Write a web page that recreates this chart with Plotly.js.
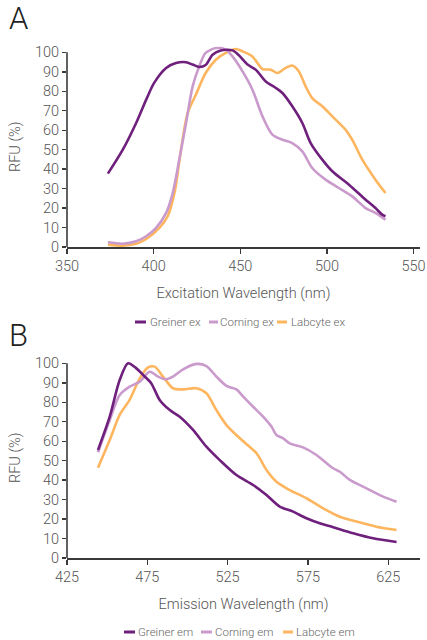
<!DOCTYPE html>
<html>
<head>
<meta charset="utf-8">
<script src="https://cdn.plot.ly/plotly-3.0.1.min.js"></script>
<style>html,body{margin:0;padding:0;background:#fff;}#chart{width:427px;height:640px;}</style>
</head>
<body>
<div id="chart"></div>
<script>
// ---------- Panel A: excitation ----------
const greinerExX = [373.6, 382.2, 389.9, 395.7, 400.2, 407.2, 412.9, 418.7, 422.5, 426.3, 430.0, 434.0, 438.8, 445.5, 449.4, 454.2, 459.0, 464.7, 470.5, 474.3, 480.0, 485.8, 490.6, 497.3, 503.1, 512.7, 522.3, 528.0, 531.9, 533.8];
const greinerExY = [37.7, 50.0, 63.7, 75.7, 84.2, 92.0, 94.5, 94.9, 93.7, 92.5, 93.5, 98.8, 101.0, 101.0, 98.3, 93.7, 91.0, 85.0, 81.7, 79.1, 72.3, 63.7, 53.4, 44.9, 38.9, 32.0, 24.3, 20.0, 16.6, 15.8];

const corningExX = [373.6, 382.2, 389.9, 395.7, 401.4, 407.2, 411.0, 414.8, 418.7, 422.5, 426.3, 430.0, 435.9, 441.6, 445.5, 451.3, 457.0, 462.8, 468.5, 474.3, 480.0, 485.8, 491.5, 499.2, 506.9, 514.6, 522.3, 528.0, 533.8];
const corningExY = [2.4, 1.7, 2.9, 5.5, 9.8, 17.5, 27.7, 44.9, 63.7, 82.5, 92.8, 99.7, 102.2, 101.4, 97.9, 90.2, 80.8, 67.1, 57.7, 55.1, 53.4, 49.1, 40.6, 34.6, 30.3, 26.0, 20.0, 17.5, 14.0];

const labcyteExX = [373.6, 382.2, 389.9, 395.7, 403.3, 408.1, 412.0, 415.8, 419.6, 424.4, 430.0, 435.9, 441.6, 447.4, 451.3, 457.0, 459.9, 462.8, 467.6, 471.4, 476.2, 480.0, 483.8, 487.7, 491.5, 497.3, 503.1, 510.7, 514.6, 520.4, 528.0, 533.8];
const labcyteExY = [1.2, 0.7, 1.7, 4.1, 9.8, 15.8, 27.7, 50.0, 68.8, 78.3, 89.4, 96.2, 99.7, 101.7, 100.5, 97.9, 94.5, 91.4, 91.1, 89.4, 92.0, 93.2, 90.2, 82.5, 76.5, 72.3, 67.1, 60.3, 55.1, 44.9, 34.6, 27.7];

// ---------- Panel B: emission ----------
const greinerEmX = [444.3, 451.6, 457.8, 463.0, 468.2, 472.4, 477.5, 482.7, 489.0, 495.2, 503.5, 511.8, 520.1, 530.5, 540.9, 549.2, 557.5, 565.8, 574.1, 582.4, 590.7, 603.2, 615.6, 630.2];
const greinerEmY = [55.5, 72.6, 91.4, 100.0, 97.4, 94.0, 89.7, 81.2, 76.0, 72.6, 65.8, 57.2, 50.3, 42.6, 37.5, 32.4, 26.4, 23.8, 20.4, 17.8, 15.8, 12.7, 10.1, 8.2];

const corningEmX = [444.3, 451.6, 457.8, 464.0, 470.3, 476.5, 481.7, 486.9, 491.0, 497.3, 505.6, 511.8, 518.0, 524.3, 530.5, 534.7, 540.9, 547.1, 552.3, 555.4, 559.6, 563.7, 572.0, 580.3, 590.7, 594.9, 601.1, 611.5, 621.9, 630.2];
const corningEmY = [54.3, 70.9, 83.7, 88.0, 90.6, 95.7, 93.2, 91.8, 93.2, 96.9, 99.7, 98.6, 93.2, 88.4, 86.6, 82.9, 77.7, 72.6, 67.5, 63.2, 61.5, 58.9, 56.8, 52.9, 46.1, 44.3, 40.1, 35.8, 31.5, 28.9];

const labcyteEmX = [444.3, 451.6, 457.8, 464.0, 470.3, 475.5, 479.6, 484.8, 491.0, 497.3, 505.6, 511.8, 518.0, 524.3, 532.6, 543.0, 549.2, 555.4, 563.7, 574.1, 584.5, 594.9, 605.3, 617.7, 630.2];
const labcyteEmY = [46.4, 60.6, 73.5, 81.2, 92.3, 97.9, 98.3, 93.2, 87.2, 86.6, 87.2, 84.6, 76.0, 68.3, 61.5, 53.8, 45.2, 39.2, 34.9, 30.7, 25.5, 21.2, 18.7, 16.1, 14.4];

const namesA = ["Greiner ex", "Corning ex", "Labcyte ex"];
const namesB = ["Greiner em", "Corning em", "Labcyte em"];
const colors = ["#6f1f7c", "#c99acb", "#fdb65f"];
const xTicksA = [350, 400, 450, 500, 550];
const xTicksB = [425, 475, 525, 575, 625];
const yTicks = [0, 10, 20, 30, 40, 50, 60, 70, 80, 90, 100];

const FONT = "Roboto, 'DejaVu Sans', sans-serif";
const TXT = "#555555";
const AX = "#3a3a3a";

function tr(x, y, name, c, xa, ya) {
  return {x: x, y: y, name: name, xaxis: xa, yaxis: ya, type: "scatter", mode: "lines",
          line: {color: c, width: 2.6, shape: "spline", smoothing: 0.8}, showlegend: false,
          hoverinfo: "skip"};
}

const data = [
  tr(greinerExX, greinerExY, namesA[0], colors[0], "x", "y"),
  tr(corningExX, corningExY, namesA[1], colors[1], "x", "y"),
  tr(labcyteExX, labcyteExY, namesA[2], colors[2], "x", "y"),
  tr(greinerEmX, greinerEmY, namesB[0], colors[0], "x2", "y2"),
  tr(corningEmX, corningEmY, namesB[1], colors[1], "x2", "y2"),
  tr(labcyteEmX, labcyteEmY, namesB[2], colors[2], "x2", "y2")
];
data.reverse();

function xa(range, ticks, anchor, title) {
  return {range: range, domain: [0, 1], anchor: anchor, tickvals: ticks, ticktext: ticks.map(String),
          showline: true, linecolor: AX, linewidth: 1.6, ticks: "outside", ticklen: 5, tickwidth: 1.4,
          tickcolor: AX, showgrid: false, zeroline: false, automargin: false,
          tickfont: {family: FONT, size: 14.5, color: TXT, weight: 300},
          title: {text: title, font: {family: FONT, size: 14.5, color: TXT, weight: 300}, standoff: 14}};
}
function ya(domain, anchor) {
  return {range: [0, 103], domain: domain, anchor: anchor, tickvals: yTicks, ticktext: yTicks.map(String),
          showline: false, ticks: "outside", ticklen: 4, tickwidth: 1.4, tickcolor: AX,
          showgrid: false, zeroline: false, automargin: false,
          tickfont: {family: FONT, size: 14.5, color: TXT, weight: 300},
          title: {text: "RFU (%)", font: {family: FONT, size: 14.5, color: TXT, weight: 300}, standoff: 10}};
}

const W = 427, H = 640, ML = 67, MR = 7;
const PW = W - ML - MR;
const px = v => (v - ML) / PW;      // page pixel -> paper x
const py = v => 1 - v / H;          // page pixel -> paper y
const shapes = [
  {type: "line", xref: "x domain", yref: "y", x0: 0, x1: 0, y0: 0, y1: 100, line: {color: AX, width: 1.6}},
  {type: "line", xref: "x2 domain", yref: "y2", x0: 0, x1: 0, y0: 0, y1: 100, line: {color: AX, width: 1.6}}
];
const annotations = [
  {text: "A", xref: "paper", yref: "paper", x: px(7), y: py(19), xanchor: "left", yanchor: "middle",
   showarrow: false, font: {family: FONT, size: 31, color: "#222", weight: 300}},
  {text: "B", xref: "paper", yref: "paper", x: px(7), y: py(335), xanchor: "left", yanchor: "middle",
   showarrow: false, font: {family: FONT, size: 31, color: "#222", weight: 300}}
];
const legA = {y: 322, sw: [[135, 146], [209, 218], [277, 287]], tx: [148, 218, 289]};
const legB = {y: 632, sw: [[124, 135], [201, 212], [283, 293]], tx: [136, 213, 294]};
function addLegend(leg, names) {
  names.forEach((n, i) => {
    shapes.push({type: "line", xref: "paper", yref: "paper", x0: px(leg.sw[i][0]), x1: px(leg.sw[i][1]),
                 y0: py(leg.y), y1: py(leg.y), line: {color: colors[i], width: 3}});
    annotations.push({text: n, xref: "paper", yref: "paper", x: px(leg.tx[i]), y: py(leg.y),
                      xanchor: "left", yanchor: "middle", showarrow: false,
                      font: {family: FONT, size: 11.5, color: "#666", weight: 300}});
  });
}
addLegend(legA, namesA);
addLegend(legB, namesB);

const layout = {
  width: W, height: H, margin: {l: ML, r: MR, t: 0, b: 0},
  paper_bgcolor: "#fff", plot_bgcolor: "#fff", showlegend: false,
  xaxis: xa([350, 553.7], xTicksA, "y", "Excitation Wavelength (nm)"),
  yaxis: ya([py(247), py(46.5)], "x"),
  xaxis2: xa([425, 644.8], xTicksB, "y2", "Emission Wavelength (nm)"),
  yaxis2: ya([py(558), py(357.5)], "x2"),
  shapes: shapes, annotations: annotations
};

Plotly.newPlot("chart", data, layout, {staticPlot: true, displayModeBar: false});
</script>
</body>
</html>
